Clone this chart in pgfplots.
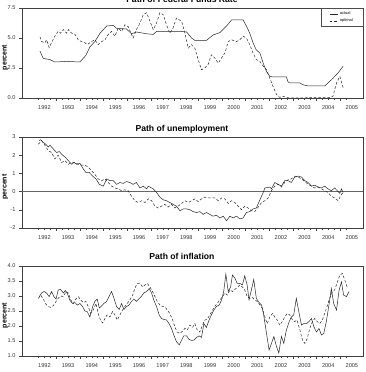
\documentclass[border=0pt]{standalone}
\usepackage{pgfplots}
\pgfplotsset{compat=1.18}
\usepackage{fontspec}
\setmainfont{Liberation Sans}

% Federal funds rate, actual and optimal
\pgfplotstableread{
t v
1992.31 3.9
1992.45 3.3
1992.73 3.2
1992.94 3.0
1993.44 3.05
1994.00 3.0
1994.25 3.55
1994.42 4.25
1994.63 4.7
1994.85 5.4
1995.13 6.0
1995.41 6.05
1995.55 5.8
1995.97 5.75
1996.18 5.35
1996.39 5.5
1996.82 5.35
1997.10 5.3
1997.24 5.55
1998.23 5.55
1998.51 5.5
1998.72 5.0
1998.86 4.8
1999.35 4.8
1999.63 5.25
1999.92 5.45
2000.20 6.0
2000.41 6.5
2000.90 6.5
2001.04 6.0
2001.18 5.4
2001.32 4.6
2001.46 4.0
2001.61 3.75
2001.75 2.9
2001.89 2.2
2002.03 1.8
2002.17 1.75
2002.73 1.75
2002.80 1.35
2002.87 1.25
2003.30 1.25
2003.44 1.1
2003.65 1.0
2004.35 1.0
2004.49 1.25
2004.70 1.65
2004.92 2.1
2005.13 2.65
}\ffactual

\pgfplotstableread{
t v
1992.31 5.1
1992.38 4.7
1992.52 4.6
1992.59 4.85
1992.70 4.2
1992.80 4.6
1992.94 5.15
1993.08 5.55
1993.18 5.4
1993.30 5.7
1993.44 5.4
1993.51 5.7
1993.65 5.4
1993.79 5.3
1993.93 4.85
1994.07 4.7
1994.21 4.6
1994.31 4.45
1994.49 4.7
1994.63 4.85
1994.77 4.45
1994.92 4.7
1995.06 4.85
1995.20 5.3
1995.34 5.55
1995.48 5.15
1995.62 5.85
1995.76 5.55
1995.90 6.1
1996.04 5.95
1996.18 5.3
1996.25 5.0
1996.39 5.7
1996.54 6.25
1996.68 6.95
1996.82 7.1
1996.96 6.4
1997.10 5.7
1997.24 6.25
1997.38 7.1
1997.52 6.95
1997.66 6.1
1997.80 5.4
1997.94 5.85
1998.08 6.65
1998.30 6.4
1998.44 5.4
1998.58 4.15
1998.72 4.45
1998.86 4.15
1999.00 3.2
1999.14 2.35
1999.28 2.5
1999.42 2.8
1999.56 3.6
1999.70 3.35
1999.85 2.9
1999.99 3.35
2000.13 3.75
2000.27 4.7
2000.41 4.85
2000.62 4.7
2000.76 4.85
2000.90 5.15
2001.04 5.0
2001.18 4.45
2001.32 3.75
2001.46 3.2
2001.61 3.05
2001.75 2.65
2001.89 2.35
2002.03 1.65
2002.17 0.95
2002.31 0.3
2002.45 0.05
2002.59 0.15
2002.73 0.05
2002.87 0.0
2004.56 0.05
2004.70 0.15
2004.85 1.25
2004.99 1.8
2005.13 0.85
}\ffoptimal

% Unemployment gap, actual and optimal
\pgfplotstableread{
t v
1992.28 2.8
1992.34 2.85
1992.45 2.7
1992.56 2.6
1992.66 2.45
1992.73 2.55
1992.87 2.35
1993.01 2.15
1993.13 2.2
1993.23 2.05
1993.37 1.9
1993.51 1.7
1993.65 1.5
1993.75 1.6
1993.86 1.5
1994.00 1.55
1994.14 1.25
1994.25 1.05
1994.39 1.05
1994.54 0.85
1994.68 0.7
1994.82 0.4
1994.99 0.3
1995.13 0.7
1995.27 0.6
1995.41 0.6
1995.55 0.4
1995.69 0.5
1995.83 0.45
1995.97 0.55
1996.11 0.5
1996.25 0.4
1996.39 0.5
1996.54 0.2
1996.68 0.3
1996.82 0.15
1996.89 0.3
1997.10 0.15
1997.24 -0.05
1997.38 -0.3
1997.52 -0.45
1997.66 -0.5
1997.80 -0.6
1997.94 -0.7
1998.08 -0.8
1998.23 -1.05
1998.37 -0.95
1998.51 -0.95
1998.65 -1.0
1998.79 -1.1
1998.93 -1.15
1999.07 -1.1
1999.21 -1.25
1999.35 -1.15
1999.49 -1.25
1999.63 -1.35
1999.77 -1.3
1999.92 -1.45
2000.06 -1.35
2000.20 -1.6
2000.34 -1.35
2000.48 -1.45
2000.62 -1.35
2000.76 -1.5
2000.90 -1.45
2001.04 -1.15
2001.18 -1.1
2001.32 -0.95
2001.46 -0.9
2001.61 -0.45
2001.75 -0.05
2001.82 0.2
2002.03 0.25
2002.10 0.15
2002.24 0.5
2002.38 0.4
2002.52 0.3
2002.66 0.6
2002.80 0.6
2002.94 0.5
2003.08 0.8
2003.23 0.85
2003.37 0.8
2003.51 0.6
2003.65 0.5
2003.79 0.3
2003.93 0.35
2004.07 0.25
2004.21 0.2
2004.35 0.3
2004.49 0.15
2004.63 0.05
2004.77 0.2
2004.92 0.0
2004.99 -0.1
2005.06 0.15
2005.13 -0.05
}\uactual

\pgfplotstableread{
t v
1992.24 2.6
1992.38 2.8
1992.52 2.55
1992.66 2.25
1992.80 2.15
1992.94 1.8
1993.08 2.0
1993.23 1.6
1993.37 1.7
1993.51 1.5
1993.65 1.6
1993.79 1.6
1993.93 1.5
1994.07 1.45
1994.21 1.45
1994.35 1.35
1994.49 1.15
1994.63 0.95
1994.77 0.7
1994.92 0.6
1995.06 0.7
1995.20 0.5
1995.34 0.3
1995.48 0.2
1995.62 0.15
1995.76 0.05
1995.90 0.1
1996.04 0.05
1996.18 -0.25
1996.32 -0.5
1996.46 -0.6
1996.61 -0.5
1996.75 -0.6
1996.89 -0.4
1997.03 -0.5
1997.17 -0.8
1997.31 -0.9
1997.45 -0.8
1997.59 -0.7
1997.73 -0.85
1997.87 -0.7
1998.01 -0.9
1998.15 -0.8
1998.30 -0.65
1998.44 -0.5
1998.58 -0.6
1998.72 -0.5
1998.86 -0.4
1999.00 -0.55
1999.14 -0.4
1999.28 -0.3
1999.42 -0.35
1999.56 -0.35
1999.70 -0.35
1999.85 -0.5
1999.99 -0.35
2000.13 -0.4
2000.27 -0.65
2000.41 -0.5
2000.55 -0.6
2000.69 -0.8
2000.83 -1.0
2000.97 -0.8
2001.11 -0.9
2001.25 -1.05
2001.39 -1.1
2001.54 -0.85
2001.68 -0.6
2001.82 -0.5
2001.96 -0.35
2002.10 0.05
2002.24 0.3
2002.38 0.4
2002.52 0.25
2002.66 0.5
2002.80 0.65
2002.94 0.7
2003.08 0.85
2003.23 0.8
2003.37 0.7
2003.51 0.55
2003.65 0.4
2003.79 0.3
2003.93 0.2
2004.07 0.25
2004.21 0.15
2004.35 0.05
2004.49 -0.05
2004.63 -0.25
2004.77 -0.35
2004.92 -0.5
2005.06 -0.15
2005.13 -0.05
}\uoptimal

% Inflation, actual and optimal
\pgfplotstableread{
t v
1992.28 2.98
1992.38 3.1
1992.48 3.15
1992.59 3.1
1992.70 2.98
1992.80 3.15
1992.90 2.98
1992.99 2.9
1993.08 3.2
1993.18 3.22
1993.30 3.1
1993.38 3.18
1993.46 3.1
1993.58 2.85
1993.69 2.75
1993.79 2.78
1993.89 2.7
1994.00 2.75
1994.11 2.65
1994.21 2.5
1994.31 2.48
1994.42 2.3
1994.54 2.65
1994.63 2.82
1994.73 2.9
1994.82 2.6
1994.92 2.67
1995.01 2.75
1995.13 2.82
1995.24 3.0
1995.34 3.15
1995.44 2.92
1995.55 2.65
1995.66 2.55
1995.76 2.75
1995.86 2.55
1995.97 2.65
1996.08 2.7
1996.18 2.82
1996.28 2.9
1996.39 2.82
1996.51 2.92
1996.61 3.0
1996.70 3.1
1996.82 3.15
1996.93 3.25
1997.03 3.1
1997.13 2.85
1997.24 2.65
1997.35 2.37
1997.45 2.25
1997.55 2.22
1997.66 2.2
1997.77 2.08
1997.87 1.92
1997.97 1.7
1998.08 1.48
1998.20 1.37
1998.30 1.53
1998.39 1.67
1998.51 1.67
1998.62 1.55
1998.72 1.52
1998.82 1.53
1998.93 1.62
1999.04 1.67
1999.14 1.62
1999.24 2.08
1999.35 1.95
1999.46 2.2
1999.56 2.37
1999.66 2.53
1999.77 2.65
1999.89 2.7
1999.99 2.87
2000.08 3.15
2000.17 3.73
2000.27 3.15
2000.37 3.3
2000.45 3.7
2000.55 3.6
2000.65 3.42
2000.76 3.42
2000.87 3.37
2000.97 3.67
2001.07 3.37
2001.15 2.87
2001.25 3.2
2001.35 3.55
2001.46 2.92
2001.58 2.78
2001.68 2.7
2001.77 2.37
2001.89 1.75
2002.00 1.2
2002.10 1.42
2002.20 1.65
2002.31 1.32
2002.41 1.1
2002.52 1.65
2002.62 1.42
2002.73 1.87
2002.85 2.15
2002.94 2.3
2003.04 2.37
2003.15 2.92
2003.27 2.42
2003.37 2.03
2003.46 2.08
2003.58 2.08
2003.69 2.15
2003.79 2.25
2003.89 1.98
2004.00 1.8
2004.11 1.92
2004.21 1.7
2004.31 1.75
2004.42 2.15
2004.54 2.75
2004.63 3.25
2004.73 2.75
2004.85 2.53
2004.96 3.2
2005.06 3.47
2005.15 3.03
2005.27 2.98
2005.38 3.15
}\pactual

\pgfplotstableread{
t v
1992.24 2.92
1992.34 3.03
1992.45 2.9
1992.56 2.73
1992.66 2.65
1992.76 2.62
1992.87 2.67
1992.99 2.82
1993.08 2.92
1993.18 3.0
1993.30 2.98
1993.41 3.15
1993.51 3.1
1993.61 2.87
1993.72 2.75
1993.83 2.9
1993.93 2.98
1994.03 2.87
1994.14 2.78
1994.25 2.82
1994.35 2.65
1994.45 2.42
1994.56 2.53
1994.68 2.75
1994.77 2.42
1994.87 2.2
1994.96 2.1
1995.06 2.25
1995.15 2.37
1995.27 2.3
1995.38 2.48
1995.48 2.37
1995.58 2.2
1995.69 2.37
1995.80 2.53
1995.90 2.65
1996.00 2.75
1996.11 2.87
1996.23 3.03
1996.32 3.25
1996.42 3.42
1996.54 3.42
1996.65 3.3
1996.75 3.37
1996.85 3.42
1996.96 3.3
1997.07 3.15
1997.17 2.98
1997.27 2.82
1997.38 2.7
1997.49 2.65
1997.59 2.65
1997.69 2.53
1997.80 2.42
1997.92 2.2
1998.01 1.98
1998.11 1.8
1998.23 1.75
1998.34 1.83
1998.44 1.92
1998.54 1.87
1998.65 2.03
1998.76 1.95
1998.86 2.08
1998.96 1.87
1999.07 1.8
1999.18 2.03
1999.28 2.2
1999.38 2.22
1999.49 2.37
1999.61 2.53
1999.70 2.65
1999.80 2.75
1999.92 2.87
2000.03 2.98
2000.13 3.1
2000.23 3.03
2000.34 3.2
2000.45 3.15
2000.55 3.22
2000.65 3.28
2000.76 3.37
2000.87 3.3
2000.97 3.2
2001.07 2.98
2001.18 2.92
2001.30 2.95
2001.39 2.87
2001.49 2.82
2001.61 2.7
2001.72 2.58
2001.82 2.3
2001.92 2.08
2002.03 2.3
2002.14 2.42
2002.24 2.3
2002.34 2.2
2002.45 2.03
2002.56 2.15
2002.66 2.3
2002.76 2.42
2002.87 2.37
2002.99 2.2
2003.08 2.15
2003.18 2.2
2003.30 1.87
2003.41 1.53
2003.51 1.42
2003.61 1.58
2003.72 1.92
2003.83 2.15
2003.93 2.25
2004.03 2.15
2004.14 2.08
2004.25 2.2
2004.35 2.42
2004.45 2.65
2004.56 2.92
2004.68 3.15
2004.77 3.2
2004.87 3.42
2004.99 3.7
2005.10 3.75
2005.20 3.53
2005.30 3.3
}\poptimal

\pgfplotsset{
  every axis title shift=0pt,
  panel/.style={
    scale only axis, width=341pt, height=90pt,
    xmin=1991.55, xmax=2005.97,
    axis line style={black!75, line width=0.45pt},
    tick align=outside, xtick pos=left, ytick pos=left,
    tick style={black!75, line width=0.4pt},
    major tick length=3pt,
    minor tick length=1.8pt,
    % year boundaries carry the longer ticks, quarters the short ones
    xtick={1993,1994,...,2005},
    xticklabels={},
    minor xtick={1992.25,1992.5,...,2005.25},
    % year names sit in the middle of each year
    extra x ticks={1992.5,1993.5,...,2005.5},
    extra x tick labels={1992,1993,1994,1995,1996,1997,1998,1999,2000,2001,2002,2003,2004,2005},
    extra x tick style={major tick length=0pt},
    ticklabel style={font=\fontsize{5.6}{6}\selectfont, text=black!80},
    /pgf/number format/assume math mode=true,
    xticklabel style={yshift=-4.5pt},
    ylabel={percent},
    ylabel style={font=\bfseries\fontsize{7}{7}\selectfont,
      at={(axis description cs:-0.05,0.45)}, anchor=center},
    title style={font=\bfseries\fontsize{8.6}{9}\selectfont, anchor=base,
      at={(axis description cs:0.469,1)}, yshift=6pt},
  },
  act/.style={black!85, line width=0.5pt},
  opt/.style={black!85, line width=0.5pt, dash pattern=on 2.6pt off 1.9pt},
}

\begin{document}
\begin{tikzpicture}[x=1pt,y=1pt]
\useasboundingbox (0,0) rectangle (366,372);

\begin{axis}[panel, at={(22pt,274pt)}, anchor=south west,
  title={Path of Federal Funds Rate},
  title style={yshift=-1pt},
  ymin=0, ymax=7.5, ytick={0,2.5,5,7.5},
  yticklabels={0.0,2.5,5.0,7.5},
  legend style={at={(1,1)}, anchor=north east, draw=black!70, line width=0.4pt,
    inner xsep=8pt, inner ysep=1.5pt, row sep=-1.5pt,
    font=\fontsize{4}{4.5}\selectfont},
  legend cell align=left,
  legend image code/.code={\draw[#1] (0pt,0pt) -- (8pt,0pt);},
]
\addplot[act] table[x=t, y=v] {\ffactual};
\addlegendentry{actual}
\addplot[opt] table[x=t, y=v] {\ffoptimal};
\addlegendentry{optimal}
\end{axis}

\begin{axis}[panel, at={(22pt,144pt)}, anchor=south west, height=91pt,
  title={Path of unemployment},
  ymin=-2, ymax=3, ytick={-2,-1,0,1,2,3},
]
\addplot[black!60, line width=0.5pt, forget plot] coordinates {(1991.55,0) (2005.97,0)};
\addplot[act] table[x=t, y=v] {\uactual};
\addplot[opt] table[x=t, y=v] {\uoptimal};
\end{axis}

\begin{axis}[panel, at={(22pt,16pt)}, anchor=south west,
  title={Path of inflation},
  ymin=1, ymax=4, ytick={1,1.5,...,4},
  yticklabels={1.0,1.5,2.0,2.5,3.0,3.5,4.0},
]
\addplot[act] table[x=t, y=v] {\pactual};
\addplot[opt] table[x=t, y=v] {\poptimal};
\end{axis}
\end{tikzpicture}
\end{document}
